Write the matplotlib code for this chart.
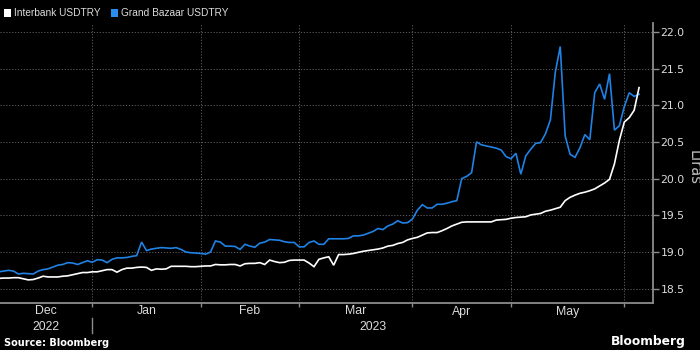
import numpy as np
import pandas as pd
import matplotlib
matplotlib.use("Agg")
import matplotlib.pyplot as plt
from matplotlib.patches import Rectangle
from matplotlib.lines import Line2D

plt.rcParams['font.family'] = ['Liberation Sans', 'DejaVu Sans']

# ---------------- data ----------------
dates = pd.bdate_range('2022-12-06', periods=131)

interbank = [
    18.64, 18.645, 18.645, 18.65, 18.65, 18.635, 18.62, 18.625, 18.645, 18.67,
    18.66, 18.66, 18.66, 18.67, 18.675, 18.69, 18.705, 18.72, 18.72, 18.73,
    18.73, 18.745, 18.76, 18.76, 18.725, 18.76, 18.78, 18.78, 18.79, 18.795,
    18.79, 18.75, 18.77, 18.765, 18.77, 18.805, 18.805, 18.805, 18.805, 18.80,
    18.80, 18.805, 18.81, 18.81, 18.83, 18.825, 18.825, 18.83, 18.83, 18.81,
    18.84, 18.845, 18.845, 18.855, 18.83, 18.89, 18.87, 18.855, 18.86, 18.885,
    18.89, 18.89, 18.89, 18.85, 18.80, 18.90, 18.92, 18.935, 18.82, 18.965,
    18.965, 18.97, 18.98, 18.995, 19.01, 19.02, 19.03, 19.04, 19.055, 19.08,
    19.09, 19.115, 19.13, 19.165, 19.185, 19.20, 19.23, 19.26, 19.265, 19.265,
    19.29, 19.32, 19.355, 19.38, 19.405, 19.41, 19.41, 19.41, 19.41, 19.41,
    19.41, 19.435, 19.44, 19.445, 19.46, 19.47, 19.475, 19.48, 19.505, 19.515,
    19.525, 19.555, 19.57, 19.59, 19.61, 19.70, 19.745, 19.775, 19.80, 19.815,
    19.835, 19.86, 19.90, 19.94, 19.99, 20.20, 20.52, 20.77, 20.83, 20.93,
    21.24,
]

grand_bazaar = [
    18.73, 18.74, 18.75, 18.74, 18.70, 18.71, 18.705, 18.70, 18.74, 18.76,
    18.77, 18.795, 18.82, 18.83, 18.855, 18.85, 18.83, 18.855, 18.88, 18.86,
    18.895, 18.89, 18.855, 18.90, 18.92, 18.92, 18.925, 18.94, 18.95, 19.135,
    19.02, 19.04, 19.05, 19.06, 19.055, 19.05, 19.06, 19.035, 19.00, 18.99,
    18.985, 18.98, 18.97, 19.00, 19.15, 19.135, 19.08, 19.08, 19.075, 19.035,
    19.105, 19.08, 19.065, 19.12, 19.135, 19.17, 19.165, 19.16, 19.14, 19.13,
    19.13, 19.07, 19.07, 19.13, 19.15, 19.105, 19.105, 19.18, 19.18, 19.18,
    19.18, 19.185, 19.22, 19.22, 19.23, 19.255, 19.28, 19.32, 19.305, 19.355,
    19.38, 19.425, 19.395, 19.40, 19.45, 19.57, 19.645, 19.60, 19.60, 19.65,
    19.65, 19.665, 19.685, 19.70, 20.00, 20.03, 20.08, 20.50, 20.46, 20.445,
    20.43, 20.415, 20.39, 20.30, 20.27, 20.345, 20.06, 20.31, 20.40, 20.48,
    20.49, 20.61, 20.80, 21.45, 21.80, 20.58, 20.33, 20.29, 20.42, 20.60,
    20.53, 21.17, 21.29, 21.08, 21.43, 20.66, 20.72, 20.98, 21.17, 21.12,
    21.15,
]

series_names = ['Interbank USDTRY', 'Grand Bazaar USDTRY']
y_ticks = [18.5, 19.0, 19.5, 20.0, 20.5, 21.0, 21.5, 22.0]
y_label = 'Liras'
source_text = 'Source: Bloomberg'
brand_text = 'Bloomberg'

# ---------------- style ----------------
W, H = 700, 350
white_c = '#ffffff'
blue_c = '#1f82e4'
spine_c = '#8c8c8c'
grid_c = '#585858'
text_c = '#dcdcdc'

fig = plt.figure(figsize=(7, 3.5), dpi=100, facecolor='black')
ax_left, ax_right, ax_top, ax_bot = 0, 652.7, 23.3, 303.3
ax = fig.add_axes([ax_left / W, 1 - ax_bot / H, (ax_right - ax_left) / W, (ax_bot - ax_top) / H])
ax.set_facecolor('black')

x = np.arange(len(dates))
ax.plot(x, grand_bazaar, color=blue_c, lw=1.2, zorder=3, solid_joinstyle='miter')
ax.plot(x, interbank, color=white_c, lw=1.2, zorder=4, solid_joinstyle='miter')

xlim = (0.26, 132.77)
ax.set_xlim(*xlim)
ax.set_ylim(18.301, 22.116)

# month starts
month_starts = [i for i in range(1, len(dates)) if dates[i].month != dates[i - 1].month]
ax.set_xticks(month_starts)
ax.set_xticklabels([])
ax.tick_params(axis='x', length=3, width=1, color=spine_c, direction='out')

ax.yaxis.tick_right()
ax.set_yticks(y_ticks)
ax.set_yticklabels([f'{v:.1f}' for v in y_ticks])
ax.tick_params(axis='y', length=4, width=1, color=spine_c, direction='out', pad=1.5,
               labelcolor=text_c)
for lab in ax.get_yticklabels():
    lab.set_family(['DejaVu Sans'])
    lab.set_fontsize(7.8)

ax.grid(True, color=grid_c, linestyle=(0, (1.3, 1.7)), linewidth=0.7)
ax.set_axisbelow(True)

for s in ['left', 'top']:
    ax.spines[s].set_visible(False)
for s in ['bottom', 'right']:
    ax.spines[s].set_color(spine_c)
    ax.spines[s].set_linewidth(1.3)

# month labels
axh = ax_bot - ax_top
bounds = [xlim[0]] + month_starts + [xlim[1]]
trans = ax.get_xaxis_transform()
for a, b in zip(bounds[:-1], bounds[1:]):
    if b - a < 10:
        continue
    d = dates[int(np.ceil(a))]
    ax.text((a + b) / 2, -(311.5 - ax_bot) / axh, d.strftime('%b'), transform=trans,
            ha='center', va='center', fontsize=8.8, color=text_c, clip_on=False)

# year labels + separators
year_starts = [i for i in range(1, len(dates)) if dates[i].year != dates[i - 1].year]
ybounds = [xlim[0]] + year_starts + [xlim[1]]
for a, b in zip(ybounds[:-1], ybounds[1:]):
    d = dates[int(np.ceil(a))]
    ax.text((a + b) / 2, -(326.5 - ax_bot) / axh, str(d.year), transform=trans,
            ha='center', va='center', fontsize=8.8, color=text_c, clip_on=False)
for ys in year_starts:
    ax.add_line(Line2D([ys, ys], [-(318 - ax_bot) / axh, -(333 - ax_bot) / axh],
                       transform=trans, color=spine_c, lw=1, clip_on=False))

# legend
fig.add_artist(Rectangle((4 / W, 1 - 16.5 / H), 7 / W, 7 / H, transform=fig.transFigure,
                         facecolor=white_c, edgecolor='none'))
fig.text(14 / W, 1 - 13 / H, series_names[0], ha='left', va='center', fontsize=7.3, color=text_c)
fig.add_artist(Rectangle((111 / W, 1 - 16.5 / H), 7 / W, 7 / H, transform=fig.transFigure,
                         facecolor='#2b8cf0', edgecolor='none'))
fig.text(121 / W, 1 - 13 / H, series_names[1], ha='left', va='center', fontsize=7.3, color=text_c)

# axis title
fig.text(694 / W, 1 - 168 / H, y_label, rotation=270, ha='center', va='center',
         fontsize=10.5, color='#bdbdbd', family=['DejaVu Sans'])

# footer
fig.text(4 / W, 1 - 342.5 / H, source_text, ha='left', va='center', fontsize=7,
         fontweight='bold', color='white', family=['DejaVu Sans'])
fig.text(686 / W, 1 - 341 / H, brand_text, ha='right', va='center', fontsize=8.8,
         fontweight='bold', color='white', family=['DejaVu Sans'])

fig.savefig('out.png', dpi=100, facecolor='black')
